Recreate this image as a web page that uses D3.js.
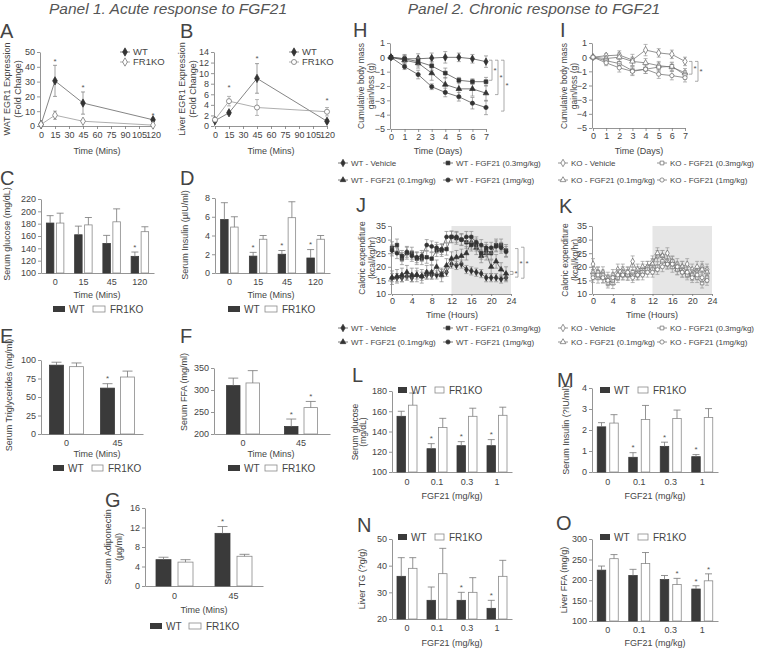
<!DOCTYPE html>
<html><head><meta charset="utf-8">
<script src="https://cdn.jsdelivr.net/npm/d3@7"></script>
<style>body{margin:0;background:#fff}svg{display:block}text{font-family:"Liberation Sans",Arial,sans-serif}</style>
</head><body><svg id="c" width="758" height="649"></svg>
<script>
// ---------------- DATA ----------------
const timeMins = [0, 15, 45, 120];
const minTicks = [0, 15, 30, 45, 60, 75, 90, 105, 120];
// A: WAT EGR1
const aWT = [1, 30.5, 15.5, 4.2];      const aWTerr = [0.4, 10.5, 7.5, 1.0];
const aKO = [1, 7.3, 3.2, 0.6];        const aKOerr = [0.3, 2.8, 0.8, 0.3];
const aStars = [null, 44, 26, 7];
// B: Liver EGR1
const bWT = [1.0, 2.5, 9.0, 0.9];      const bWTerr = [0.2, 0.3, 2.8, 0.3];
const bKO = [1.2, 4.7, 3.5, 2.7];      const bKOerr = [0.3, 0.9, 1.5, 0.8];
const bStars = [null, 7.4, 12.8, 4.8];
// C-G bars
const timeCats4 = ["0", "15", "45", "120"];
const timeCats2 = ["0", "45"];
const cWT = [181, 162, 148, 127];  const cWTe = [12, 14, 13, 7];
const cKO = [181, 178, 183, 167];  const cKOe = [16, 12, 21, 8];
const cWTs = [0, 0, 0, 1];         const cKOs = [0, 0, 0, 0];
const dWT = [5.7, 1.8, 2.0, 1.6];  const dWTe = [1.8, 0.4, 0.4, 0.9];
const dKO = [4.9, 3.6, 5.9, 3.6];  const dKOe = [1.1, 0.4, 1.7, 0.4];
const dWTs = [0, 1, 1, 1];         const dKOs = [0, 0, 0, 0];
const eWT = [93, 62];  const eWTe = [4, 6];  const eKO = [91, 77];  const eKOe = [5, 8];
const eWTs = [0, 1];   const eKOs = [0, 0];
const fWT = [310, 217]; const fWTe = [17, 17]; const fKO = [316, 260]; const fKOe = [28, 14];
const fWTs = [0, 1];    const fKOs = [0, 1];
const gWT = [5.4, 10.8]; const gWTe = [0.5, 1.4]; const gKO = [4.9, 6.1]; const gKOe = [0.5, 0.4];
const gWTs = [0, 1];     const gKOs = [0, 0];
// H / I: body mass
const days = [0, 1, 2, 3, 4, 5, 6, 7];
const hVeh = [0, -0.1, -0.1, -0.05, 0, 0, -0.1, -0.3];   const hVehE = [0, 0.3, 0.35, 0.35, 0.4, 0.3, 0.3, 0.4];
const h01  = [0, -0.2, -0.4, -1.1, -1.9, -2.2, -2.2, -2.5]; const h01E = [0, 0.3, 0.35, 0.5, 0.5, 0.5, 0.5, 0.55];
const h03  = [0, -0.1, -0.3, -0.6, -1.1, -1.6, -1.7, -1.7]; const h03E = [0, 0.25, 0.3, 0.3, 0.35, 0.2, 0.2, 0.3];
const h1   = [0, -0.65, -1.2, -2.05, -2.45, -2.75, -3.2, -3.5]; const h1E = [0, 0.2, 0.3, 0.2, 0.3, 0.3, 0.4, 0.5];
const iVeh = [0, 0.1, 0.15, -0.2, 0.5, 0.3, 0.2, -0.3];   const iVehE = [0, 0.15, 0.3, 0.4, 0.4, 0.3, 0.3, 0.3];
const i01  = [0, -0.1, 0, -0.3, -0.4, -0.6, -0.7, -1.1];  const i01E = [0, 0.2, 0.3, 0.3, 0.3, 0.3, 0.3, 0.3];
const i03  = [0, -0.25, -0.45, -0.95, -0.85, -0.7, -0.65, -1.25]; const i03E = [0, 0.2, 0.3, 0.3, 0.3, 0.3, 0.3, 0.3];
const i1   = [0, -0.4, -0.75, -1.0, -0.85, -1.2, -1.3, -1.45]; const i1E = [0, 0.2, 0.3, 0.3, 0.3, 0.3, 0.3, 0.3];
// J / K: caloric expenditure (hourly)
const hours = [0,1,2,3,4,5,6,7,8,9,10,11,12,13,14,15,16,17,18,19,20,21,22,23];
const jVeh = [16,16,16,16.5,16,17,16.5,17,17,17,17.5,18,21,20.5,21,19,18.5,18,17.5,16,16,16,15.5,16];
const j01  = [16,16.5,17,18,17,17,16.5,18,18,20,17,20.5,23,23.5,24,25,29,27,24,25,20,22,19,17.5];
const j03  = [27,28,23,25,25,23,23,23.5,23,26,26,26.5,31,30.5,30,29,28,28,25,26,25,28,28,26];
const j1   = [26,25,24,25.5,24,23.5,24,28,27.5,27,26.5,31,31,31,30,31,31,29,28,27,27,27.5,27,25.5];
const jErr = [1.5, 2.5, 2.2, 2.0];
const kVeh = [21,18,18,16,17,19,19,18,22,18,19,20,22,24,24,25,22,21,20,21,19,18,20,19];
const k01  = [18,16,16,15,14,17,18,17,17,19,20,20,21,25,24,22,20,19,20,18,17,20,19,18];
const k03  = [17,18,17,14,15,16,17,17,18,17,18,19,19,20,22,21,22,19,18,17,17,16,14,16];
const k1   = [16,17,16,15,16,17,17,18,16,17,17,18,18,19,20,21,21,20,18,18,16,17,16,15];
const kErr = [2.0, 2.0, 1.8, 1.8];
// L-O: dose bars
const doseCats = ["0", "0.1", "0.3", "1"];
const lWT = [155, 123, 126, 126]; const lWTe = [5, 5, 4, 6];  const lKO = [166, 144, 155, 156]; const lKOe = [12, 9, 8, 8];
const lWTs = [0, 1, 1, 1]; const lKOs = [0, 0, 0, 0];
const mWT = [2.15, 0.7, 1.22, 0.73]; const mWTe = [0.2, 0.22, 0.2, 0.1]; const mKO = [2.33, 2.5, 2.55, 2.6]; const mKOe = [0.4, 0.67, 0.4, 0.42];
const mWTs = [0, 1, 1, 1]; const mKOs = [0, 0, 0, 0];
const nWT = [36, 27, 27, 24]; const nWTe = [7, 5, 3, 3]; const nKO = [39, 37, 30, 36]; const nKOe = [4, 9.5, 5.5, 6];
const nWTs = [0, 0, 1, 1]; const nKOs = [0, 0, 0, 0];
const oWT = [224, 211, 201, 178]; const oWTe = [10, 15, 10, 8]; const oKO = [252, 240, 189, 198]; const oKOe = [10, 27, 15, 17];
const oWTs = [0, 0, 0, 1]; const oKOs = [0, 0, 1, 1];

// ---------------- DRAWING ----------------
const svg = d3.select('#c');
const AX = '#7a7a7a', TX = '#444', DARK = '#3a3a3a';
const fmt = d3.format('~g');

function styleAxis(g) {
  g.selectAll('.domain').attr('stroke', AX).attr('stroke-width', 0.8);
  g.selectAll('.tick line').attr('stroke', AX).attr('stroke-width', 0.8);
  g.selectAll('.tick text').attr('fill', TX).attr('font-size', 9).attr('font-family', 'Liberation Sans, Arial, sans-serif');
}
function label(x, y, s, o = {}) {
  const t = svg.append('text').attr('x', x).attr('y', y).text(s)
    .attr('fill', o.fill || TX).attr('font-size', o.size || 9)
    .attr('text-anchor', o.anchor || 'middle').attr('dy', '0.35em');
  if (o.rot) t.attr('transform', `rotate(-90,${x},${y})`);
  if (o.italic) t.attr('font-style', 'italic');
  return t;
}
function star(x, y) { label(x, y, '*', { size: 8, fill: '#555' }); }

function linePanel(p) {
  const x = d3.scaleLinear().domain(p.xd).range(p.xr);
  const y = d3.scaleLinear().domain(p.yd).range(p.yr);
  const g = svg.append('g');
  if (p.shade) g.append('rect').attr('x', x(p.shade[0])).attr('width', x(p.shade[1]) - x(p.shade[0]))
    .attr('y', y(p.yd[1])).attr('height', y(p.yd[0]) - y(p.yd[1])).attr('fill', '#e6e6e6');
  g.append('g').attr('transform', `translate(0,${p.yr[0]})`)
    .call(d3.axisBottom(x).tickValues(p.xt).tickFormat(fmt).tickSize(p.xts ?? 3).tickPadding(p.xtp ?? 2.5).tickSizeOuter(0)).call(styleAxis);
  g.append('g').attr('transform', `translate(${p.xr[0] - 1},0)`)
    .call(d3.axisLeft(y).tickValues(p.yt).tickFormat(fmt).tickSize(3).tickPadding(2).tickSizeOuter(0)).call(styleAxis);
  p.series.forEach(s => {
    const pts = p.xs.map((xv, i) => ({ x: xv, v: s.v[i], e: Array.isArray(s.e) ? s.e[i] : s.e }));
    g.append('path').attr('fill', 'none').attr('stroke', s.ec).attr('stroke-width', 0.7)
      .attr('d', pts.filter(d => d.e > 0).map(d => {
        const X = x(d.x), y1 = y(d.v + d.e), y2 = y(d.v - d.e), c = 2;
        return `M${X},${y1}V${y2}M${X - c},${y1}H${X + c}M${X - c},${y2}H${X + c}`;
      }).join(''));
    g.append('path').datum(pts).attr('fill', 'none').attr('stroke', s.lc).attr('stroke-width', 0.8)
      .attr('d', d3.line().x(d => x(d.x)).y(d => y(d.v)));
    g.append('g').selectAll('path').data(pts).join('path')
      .attr('transform', d => `translate(${x(d.x)},${y(d.v)})`)
      .attr('d', d3.symbol().type(s.sym).size(s.ss || 16))
      .attr('fill', s.fill).attr('stroke', s.stroke).attr('stroke-width', 0.7);
  });
  if (p.stars) p.stars.forEach((v, i) => { if (v != null) star(x(p.xs[i]), y(v)); });
  if (p.brackets) p.brackets.forEach(b => {
    g.append('path').attr('fill', 'none').attr('stroke', '#888').attr('stroke-width', 0.7)
      .attr('d', `M${b.x - 3},${y(b.a)}H${b.x}V${y(b.b)}H${b.x - 3}`);
    star(b.x + 3, (y(b.a) + y(b.b)) / 2);
  });
  return { x, y };
}

function barPanel(p) {
  const x = d3.scaleBand().domain(p.cats).range(p.xr);
  const y = d3.scaleLinear().domain(p.yd).range(p.yr);
  const g = svg.append('g');
  g.append('g').attr('transform', `translate(0,${p.yr[0]})`)
    .call(d3.axisBottom(x).tickSize(3).tickPadding(p.xtp ?? 2.5).tickSizeOuter(0)).call(styleAxis);
  g.selectAll('.tick line').remove();
  g.append('g').attr('transform', `translate(${p.xr[0]},0)`)
    .call(d3.axisLeft(y).tickValues(p.yt).tickFormat(fmt).tickSize(3).tickPadding(2).tickSizeOuter(0)).call(styleAxis);
  const groups = [
    { v: p.wt, e: p.wte, st: p.wts, fill: DARK, stroke: DARK, side: -1 },
    { v: p.ko, e: p.koe, st: p.kos, fill: '#fff', stroke: '#8a8a8a', side: 1 }];
  groups.forEach(gr => {
    const bx = i => { const c = x(p.cats[i]) + x.bandwidth() / 2; return gr.side < 0 ? c - p.gap / 2 - p.bw : c + p.gap / 2; };
    const idx = p.cats.map((c, i) => i);
    g.append('g').selectAll('rect').data(idx).join('rect')
      .attr('x', i => bx(i)).attr('y', i => y(gr.v[i])).attr('width', p.bw)
      .attr('height', i => y(p.yd[0]) - y(gr.v[i]))
      .attr('fill', gr.fill).attr('stroke', gr.stroke).attr('stroke-width', 0.8);
    g.append('path').attr('fill', 'none').attr('stroke', '#777').attr('stroke-width', 0.8)
      .attr('d', idx.map(i => {
        const X = bx(i) + p.bw / 2, t = y(gr.v[i]), e = y(gr.v[i] + gr.e[i]), c = p.cap || 3;
        return `M${X},${t}V${e}M${X - c},${e}H${X + c}`;
      }).join(''));
    idx.forEach(i => { if (gr.st[i]) star(bx(i) + p.bw / 2, y(gr.v[i] + gr.e[i]) - 5); });
  });
  const L = p.leg;
  svg.append('rect').attr('x', L.x1).attr('y', L.y - 3).attr('width', L.w).attr('height', 6).attr('fill', DARK);
  label(L.x1 + L.w + 4, L.y, 'WT', { anchor: 'start', size: 10 });
  svg.append('rect').attr('x', L.x2).attr('y', L.y - 3).attr('width', L.w).attr('height', 6).attr('fill', '#fff').attr('stroke', '#8a8a8a').attr('stroke-width', 0.8);
  label(L.x2 + L.w + 5, L.y, 'FR1KO', { anchor: 'start', size: 10 });
}

function lineLegend(x, y, s, text, size) {
  svg.append('path').attr('d', `M${x - 5},${y}H${x + 5}`).attr('stroke', s.lc).attr('stroke-width', 0.8);
  svg.append('path').attr('transform', `translate(${x},${y})`).attr('d', d3.symbol().type(s.sym).size(s.ss || 14)())
    .attr('fill', s.fill).attr('stroke', s.stroke).attr('stroke-width', 0.7);
  label(x + 8, y, text, { anchor: 'start', size: size || 8 });
}

// titles
label(168, 9, 'Panel 1. Acute response to FGF21', { size: 15.5, italic: true, fill: '#555' });
label(534, 9, 'Panel 2. Chronic response to FGF21', { size: 15.5, italic: true, fill: '#555' });
// panel letters
[['A', 0, 31], ['B', 180, 31], ['C', 0, 178], ['D', 180, 178], ['E', 0, 336], ['F', 180, 336], ['G', 105, 500],
 ['H', 353, 30], ['I', 560, 30], ['J', 356, 205], ['K', 559, 206], ['L', 352, 375], ['M', 557, 380], ['N', 357, 525], ['O', 556, 523]]
  .forEach(([t, x, y]) => label(x, y, t, { size: 20, anchor: 'start', fill: '#444' }));

const wtSer = (v, e) => ({ v, e, sym: d3.symbolDiamond, fill: '#333', stroke: '#333', lc: '#666', ec: '#777', ss: 20 });
const koSer = (v, e, sym) => ({ v, e, sym, fill: '#fff', stroke: '#666', lc: '#999', ec: '#999', ss: 20 });

// A
linePanel({ xd: [0, 120], xr: [41, 153], yd: [0, 50], yr: [126, 52], xt: minTicks, yt: [0, 10, 20, 30, 40, 50],
  xs: timeMins, series: [wtSer(aWT, aWTerr), koSer(aKO, aKOerr, d3.symbolDiamond)], stars: aStars });
label(7, 89, 'WAT EGR1 Expression', { rot: true }); label(18, 89, '(Fold Change)', { rot: true });
label(97, 151, 'Time (Mins)');
lineLegend(125, 52, wtSer(), 'WT', 9.5); lineLegend(125, 62, koSer(null, null, d3.symbolDiamond), 'FR1KO', 9.5);
// B
linePanel({ xd: [0, 120], xr: [215, 327], yd: [0, 14], yr: [126, 52], xt: minTicks, yt: [0, 2, 4, 6, 8, 10, 12, 14],
  xs: timeMins, series: [wtSer(bWT, bWTerr), koSer(bKO, bKOerr, d3.symbolCircle)], stars: bStars });
label(182, 89, 'Liver EGR1 Expression', { rot: true }); label(193, 89, '(Fold Change)', { rot: true });
label(271, 151, 'Time (Mins)');
lineLegend(294, 52, wtSer(), 'WT', 9.5); lineLegend(294, 62, koSer(null, null, d3.symbolCircle), 'FR1KO', 9.5);

// C
barPanel({ cats: timeCats4, xr: [41, 154], yd: [100, 220], yr: [273, 199], yt: [100, 120, 140, 160, 180, 200, 220],
  wt: cWT, wte: cWTe, ko: cKO, koe: cKOe, wts: cWTs, kos: cKOs, bw: 7.5, gap: 2.5, cap: 3.5,
  leg: { x1: 53, x2: 93, y: 309, w: 12 } });
label(7, 234, 'Serum glucose (mg/dL)', { rot: true }); label(97, 295, 'Time (Mins)');
// D
barPanel({ cats: timeCats4, xr: [215, 330], yd: [0, 8], yr: [273, 198], yt: [0, 2, 4, 6, 8],
  wt: dWT, wte: dWTe, ko: dKO, koe: dKOe, wts: dWTs, kos: dKOs, bw: 7.5, gap: 2.5, cap: 3.5,
  leg: { x1: 228, x2: 265, y: 309, w: 12 } });
label(185, 235, 'Serum Insulin (µIU/ml)', { rot: true }); label(271, 295, 'Time (Mins)');
// E
barPanel({ cats: timeCats2, xr: [41, 143], yd: [0, 100], yr: [434, 360], yt: [0, 25, 50, 75, 100],
  wt: eWT, wte: eWTe, ko: eKO, koe: eKOe, wts: eWTs, kos: eKOs, bw: 14, gap: 6, cap: 5,
  leg: { x1: 53, x2: 92, y: 468, w: 11 } });
label(9, 395, 'Serum Triglycerides (mg/ml)', { rot: true }); label(97, 454, 'Time (Mins)');
// F
barPanel({ cats: timeCats2, xr: [214, 330], yd: [200, 350], yr: [434, 368], yt: [200, 250, 300, 350],
  wt: fWT, wte: fWTe, ko: fKO, koe: fKOe, wts: fWTs, kos: fKOs, bw: 13.5, gap: 6, cap: 5,
  leg: { x1: 228, x2: 265, y: 468, w: 12 } });
label(184, 392, 'Serum FFA (mg/ml)', { rot: true }); label(271, 454, 'Time (Mins)');
// G
barPanel({ cats: timeCats2, xr: [145, 263], yd: [0, 16], yr: [586, 508], yt: [0, 4, 8, 12, 16],
  wt: gWT, wte: gWTe, ko: gKO, koe: gKOe, wts: gWTs, kos: gKOs, bw: 15, gap: 7, cap: 5, xtp: 3.5,
  leg: { x1: 150, x2: 189, y: 626, w: 12 } });
label(108, 547, 'Serum Adiponectin', { rot: true }); label(119, 547, '(µg/ml)', { rot: true });
label(204, 610, 'Time (Mins)');

// H
const wtH = [
  { v: hVeh, e: hVehE, sym: d3.symbolDiamond, fill: '#333', stroke: '#333', lc: '#555', ec: '#888', ss: 16 },
  { v: h01, e: h01E, sym: d3.symbolTriangle, fill: '#333', stroke: '#333', lc: '#555', ec: '#888', ss: 14 },
  { v: h03, e: h03E, sym: d3.symbolSquare, fill: '#333', stroke: '#333', lc: '#555', ec: '#888', ss: 14 },
  { v: h1, e: h1E, sym: d3.symbolCircle, fill: '#333', stroke: '#333', lc: '#555', ec: '#888', ss: 14 }];
linePanel({ xd: [0, 7], xr: [391, 486], yd: [-5, 1], yr: [129, 43], xt: days, yt: [-5, -4, -3, -2, -1, 0, 1],
  xtp: 1.5, xs: days, series: wtH,
  brackets: [{ x: 492, a: -0.2, b: -1.6 }, { x: 498, a: -0.2, b: -2.6 }, { x: 504, a: -0.2, b: -3.75 }] });
label(361, 86, 'Cumulative body mass', { rot: true, size: 8.5 }); label(371, 86, 'gain/loss (g)', { rot: true, size: 8.5 });
label(438, 151, 'Time (Days)');
const wtNames = ['WT - Vehicle', 'WT - FGF21 (0.1mg/kg)', 'WT - FGF21 (0.3mg/kg)', 'WT - FGF21 (1mg/kg)'];
function wtLegend(y1, y2) {
  lineLegend(343, y1, wtH[0], wtNames[0]); lineLegend(448, y1, wtH[2], wtNames[2]);
  lineLegend(343, y2, wtH[1], wtNames[1]); lineLegend(448, y2, wtH[3], wtNames[3]);
}
wtLegend(163, 180);
// I
const koI = [
  { v: iVeh, e: iVehE, sym: d3.symbolDiamond, fill: '#fff', stroke: '#666', lc: '#777', ec: '#999', ss: 16 },
  { v: i01, e: i01E, sym: d3.symbolTriangle, fill: '#fff', stroke: '#666', lc: '#777', ec: '#999', ss: 14 },
  { v: i03, e: i03E, sym: d3.symbolSquare, fill: '#fff', stroke: '#666', lc: '#777', ec: '#999', ss: 14 },
  { v: i1, e: i1E, sym: d3.symbolCircle, fill: '#fff', stroke: '#666', lc: '#777', ec: '#999', ss: 14 }];
linePanel({ xd: [0, 7], xr: [593, 685], yd: [-5, 1], yr: [128, 43], xt: days, yt: [-5, -4, -3, -2, -1, 0, 1],
  xtp: 1.5, xs: days, series: koI,
  brackets: [{ x: 692, a: -0.3, b: -1.2 }, { x: 698, a: -0.3, b: -1.7 }] });
label(564, 86, 'Cumulative body mass', { rot: true, size: 8.5 }); label(574, 86, 'gain/loss (g)', { rot: true, size: 8.5 });
label(639, 151, 'Time (Days)');
const koNames = ['KO - Vehicle', 'KO - FGF21 (0.1mg/kg)', 'KO - FGF21 (0.3mg/kg)', 'KO - FGF21 (1mg/kg)'];
function koLegend(y1, y2) {
  lineLegend(563, y1, koI[0], koNames[0]); lineLegend(662, y1, koI[2], koNames[2]);
  lineLegend(563, y2, koI[1], koNames[1]); lineLegend(662, y2, koI[3], koNames[3]);
}
koLegend(163, 180);

// J
const jSeries = [jVeh, j01, j03, j1].map((v, i) => Object.assign({}, wtH[i], { v, e: jErr[i], ss: 12 }));
linePanel({ xd: [0, 24], xr: [392, 511], yd: [10, 35], yr: [294, 226], xt: [0, 4, 8, 12, 16, 20, 24], yt: [10, 15, 20, 25, 30, 35],
  xts: 2, xtp: 1.5, xs: hours, series: jSeries, shade: [12, 24],
  brackets: [{ x: 513, a: 18.3, b: 17.2 }, { x: 518, a: 26.7, b: 16.2 }, { x: 524, a: 27.2, b: 15.8 }] });
label(362, 258, 'Caloric expenditure', { rot: true, size: 8.5 }); label(372, 258, '(kcal/kg/hr)', { rot: true, size: 8.5 });
label(452, 315, 'Time (Hours)');
wtLegend(328, 342);
// K
const kSeries = [kVeh, k01, k03, k1].map((v, i) => Object.assign({}, koI[i], { v, e: kErr[i], ss: 12 }));
linePanel({ xd: [0, 24], xr: [593, 712], yd: [10, 35], yr: [294, 226], xt: [0, 4, 8, 12, 16, 20, 24], yt: [10, 15, 20, 25, 30, 35],
  xts: 2, xtp: 1.5, xs: hours, series: kSeries, shade: [12, 24] });
label(565, 260, 'Caloric expenditure', { rot: true, size: 8.5 }); label(575, 260, '(kcal/kg/hr)', { rot: true, size: 8.5 });
label(652, 315, 'Time (Hours)');
koLegend(328, 342);

// L
barPanel({ cats: doseCats, xr: [392, 512], yd: [100, 180], yr: [472, 391], yt: [100, 120, 140, 160, 180],
  wt: lWT, wte: lWTe, ko: lKO, koe: lKOe, wts: lWTs, kos: lKOs, bw: 8.5, gap: 3, cap: 3.5, xtp: 3.5,
  leg: { x1: 398, x2: 435, y: 390, w: 9 } });
label(355, 432, 'Serum glucose', { rot: true, size: 8.5 }); label(363, 432, '(mg/dL)', { rot: true, size: 8.5 });
label(452, 496, 'FGF21 (mg/kg)');
// M
barPanel({ cats: doseCats, xr: [592, 718], yd: [0, 4], yr: [472, 388], yt: [0, 1, 2, 3, 4],
  wt: mWT, wte: mWTe, ko: mKO, koe: mKOe, wts: mWTs, kos: mKOs, bw: 8.5, gap: 4, cap: 3.5, xtp: 3.5,
  leg: { x1: 600, x2: 638, y: 390, w: 10 } });
label(566, 430, 'Serum Insulin (?IU/ml)', { rot: true });
label(655, 496, 'FGF21 (mg/kg)');
// N
barPanel({ cats: doseCats, xr: [392, 512], yd: [20, 50], yr: [619, 539], yt: [20, 30, 40, 50],
  wt: nWT, wte: nWTe, ko: nKO, koe: nKOe, wts: nWTs, kos: nKOs, bw: 8.5, gap: 3, cap: 3.5,
  leg: { x1: 398, x2: 435, y: 537, w: 9 } });
label(362, 579, 'Liver TG (?g/g)', { rot: true });
label(452, 643, 'FGF21 (mg/kg)');
// O
barPanel({ cats: doseCats, xr: [592, 718], yd: [100, 300], yr: [621, 539], yt: [100, 150, 200, 250, 300],
  wt: oWT, wte: oWTe, ko: oKO, koe: oKOe, wts: oWTs, kos: oKOs, bw: 8.5, gap: 4, cap: 3.5,
  leg: { x1: 600, x2: 638, y: 537, w: 10 } });
label(564, 580, 'Liver FFA (mg/g)', { rot: true });
label(655, 643, 'FGF21 (mg/kg)');
</script></body></html>
